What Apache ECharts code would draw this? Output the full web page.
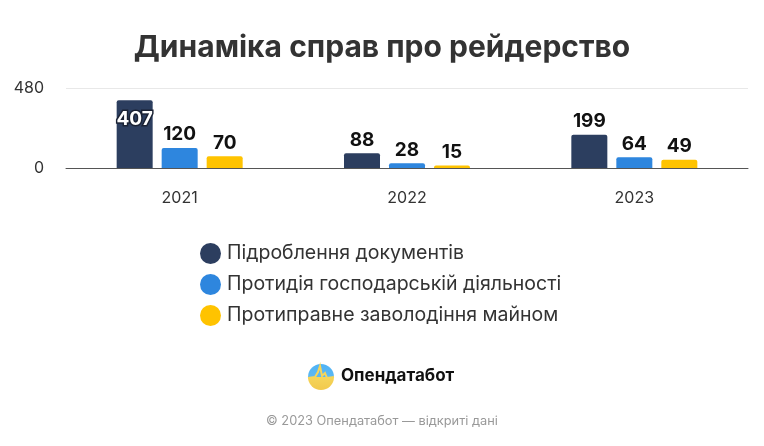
<!DOCTYPE html>
<html>
<head>
<meta charset="utf-8">
<script src="https://cdn.jsdelivr.net/npm/echarts@6/dist/echarts.min.js"></script>
<style>
  html, body { margin: 0; padding: 0; background: #fff; }
  #main { width: 764px; height: 446px; }
</style>
</head>
<body>
<div id="main"></div>
<script>
// дані
var years = ['2021', '2022', '2023'];
var seriesNames = ['Підроблення документів', 'Протидія господарській діяльності', 'Протиправне заволодіння майном'];
var forgery = [407, 88, 199];
var obstruction = [120, 28, 64];
var seizure = [70, 15, 49];
var yTicks = [0, 480];

var colors = ['#2c3e5f', '#2e86de', '#ffc300'];
var font = 'Inter, "Noto Sans", sans-serif';

var myChart = echarts.init(document.getElementById('main'));

var labelTop = {
  show: true,
  position: 'top',
  distance: 4,
  color: '#111',
  fontSize: 19,
  fontWeight: 'bold',
  fontFamily: font
};

function makeSeries(name, data, idx) {
  return {
    name: name,
    type: 'bar',
    data: data.map(function (v) {
      // велике значення - підпис всередині стовпця
      if (v > 300) {
        return {
          value: v,
          label: {
            position: 'insideTop',
            distance: 10,
            color: '#fff',
            textBorderColor: '#1a2233',
            textBorderWidth: 3
          }
        };
      }
      return v;
    }),
    barWidth: 36,
    barGap: '25%',
    itemStyle: { color: colors[idx], borderRadius: [2, 2, 0, 0] },
    label: labelTop
  };
}

var option = {
  backgroundColor: '#fff',
  color: colors,
  title: {
    text: 'Динаміка справ про рейдерство',
    left: 'center',
    top: 28,
    textStyle: { fontSize: 30, fontWeight: 'bold', color: '#333', fontFamily: font }
  },
  grid: { left: 66, right: 16, top: 88, bottom: 278 },
  legend: {
    orient: 'vertical',
    left: 195,
    top: 238,
    icon: 'circle',
    itemWidth: 21,
    itemHeight: 21,
    itemGap: 10,
    data: seriesNames,
    textStyle: { fontSize: 19.5, color: '#333', fontFamily: font, padding: [0, 0, 0, 1] }
  },
  xAxis: {
    type: 'category',
    data: years,
    axisLine: { lineStyle: { color: '#555', width: 1 } },
    axisTick: { show: false },
    axisLabel: { margin: 22, fontSize: 16, color: '#333', fontFamily: font }
  },
  yAxis: {
    type: 'value',
    min: yTicks[0],
    max: yTicks[1],
    interval: yTicks[1] - yTicks[0],
    axisLine: { show: false },
    axisTick: { show: false },
    splitLine: { lineStyle: { color: '#e8e8e8' } },
    axisLabel: { margin: 22, fontSize: 16, color: '#333', fontFamily: font, padding: [5, 0, 0, 0] }
  },
  series: [
    makeSeries(seriesNames[0], forgery, 0),
    makeSeries(seriesNames[1], obstruction, 1),
    makeSeries(seriesNames[2], seizure, 2)
  ],
  graphic: [
    {
      type: 'circle',
      shape: { cx: 321, cy: 377, r: 13 },
      style: {
        fill: new echarts.graphic.LinearGradient(0, 0, 0, 1, [
          { offset: 0, color: '#4fb3f6' },
          { offset: 0.5, color: '#5cb8f2' },
          { offset: 0.5, color: '#f5d55a' },
          { offset: 1, color: '#f2c94c' }
        ])
      }
    },
    {
      type: 'polyline',
      shape: { points: [[308, 378], [315, 377], [318, 372], [320, 366], [322, 376], [325, 373], [327, 378], [334, 377]] },
      style: { stroke: '#f5d55a', lineWidth: 2, fill: null }
    },
    {
      type: 'text',
      left: 341,
      top: 367,
      style: { text: 'Опендатабот', fontSize: 17, fontWeight: 'bold', fill: '#111', fontFamily: font }
    },
    {
      type: 'text',
      left: 'center',
      top: 415,
      style: { text: '© 2023 Опендатабот — відкриті дані', fontSize: 12.8, fill: '#999', fontFamily: font }
    }
  ]
};

myChart.setOption(option);
window.onresize = myChart.resize;
</script>
</body>
</html>
